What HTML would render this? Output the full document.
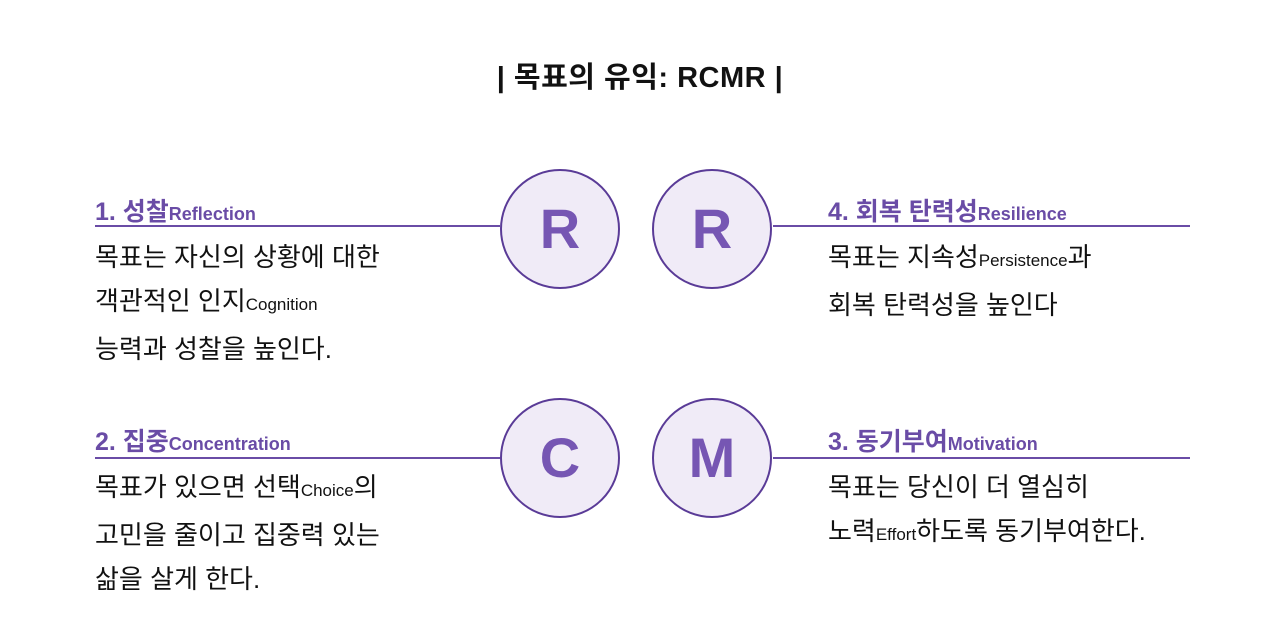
<!DOCTYPE html>
<html><head><meta charset="utf-8"><style>
body{margin:0;width:1280px;height:641px;background:#fff;position:relative;overflow:hidden;font-family:"Liberation Sans","Noto Sans CJK KR",sans-serif;color:#111}
.t{position:absolute;white-space:nowrap}
.title{left:0;width:1280px;text-align:center;top:54px;font-size:29px;font-weight:bold;letter-spacing:0.5px}
.h{font-size:25px;font-weight:bold;color:#6a4ca6}
.h small{font-size:18px;font-weight:bold}
.b{font-size:26px;line-height:44px}
.b small{font-size:17px}
.line{position:absolute;height:1.5px;background:#6a4ca6}
.c{position:absolute;width:120px;height:120px;border-radius:50%;border:2px solid #5a3b97;background:#f0ebf7;box-sizing:border-box;text-align:center;line-height:116px;font-size:56px;font-weight:bold;color:#7656b3}
</style></head><body>
<div class="t title">| 목표의 유익: RCMR |</div>

<div class="line" style="left:95px;width:405px;top:225px"></div>
<div class="line" style="left:773px;width:417px;top:225px"></div>
<div class="line" style="left:95px;width:405px;top:457px"></div>
<div class="line" style="left:773px;width:417px;top:457px"></div>

<div class="c" style="left:500px;top:169px">R</div>
<div class="c" style="left:652px;top:169px">R</div>
<div class="c" style="left:500px;top:398px">C</div>
<div class="c" style="left:652px;top:398px">M</div>

<div class="t h" style="left:95px;top:192px">1. 성찰<small>Reflection</small></div>
<div class="t b" style="left:95px;top:235px">목표는 자신의 상황에 대한<br>객관적인 인지<small>Cognition</small><br>능력과 성찰을 높인다.</div>

<div class="t h" style="left:828px;top:192px">4. 회복 탄력성<small>Resilience</small></div>
<div class="t b" style="left:828px;top:235px">목표는 지속성<small>Persistence</small>과<br>회복 탄력성을 높인다</div>

<div class="t h" style="left:95px;top:422px">2. 집중<small>Concentration</small></div>
<div class="t b" style="left:95px;top:465px">목표가 있으면 선택<small>Choice</small>의<br>고민을 줄이고 집중력 있는<br>삶을 살게 한다.</div>

<div class="t h" style="left:828px;top:422px">3. 동기부여<small>Motivation</small></div>
<div class="t b" style="left:828px;top:465px">목표는 당신이 더 열심히<br>노력<small>Effort</small>하도록 동기부여한다.</div>
</body></html>
